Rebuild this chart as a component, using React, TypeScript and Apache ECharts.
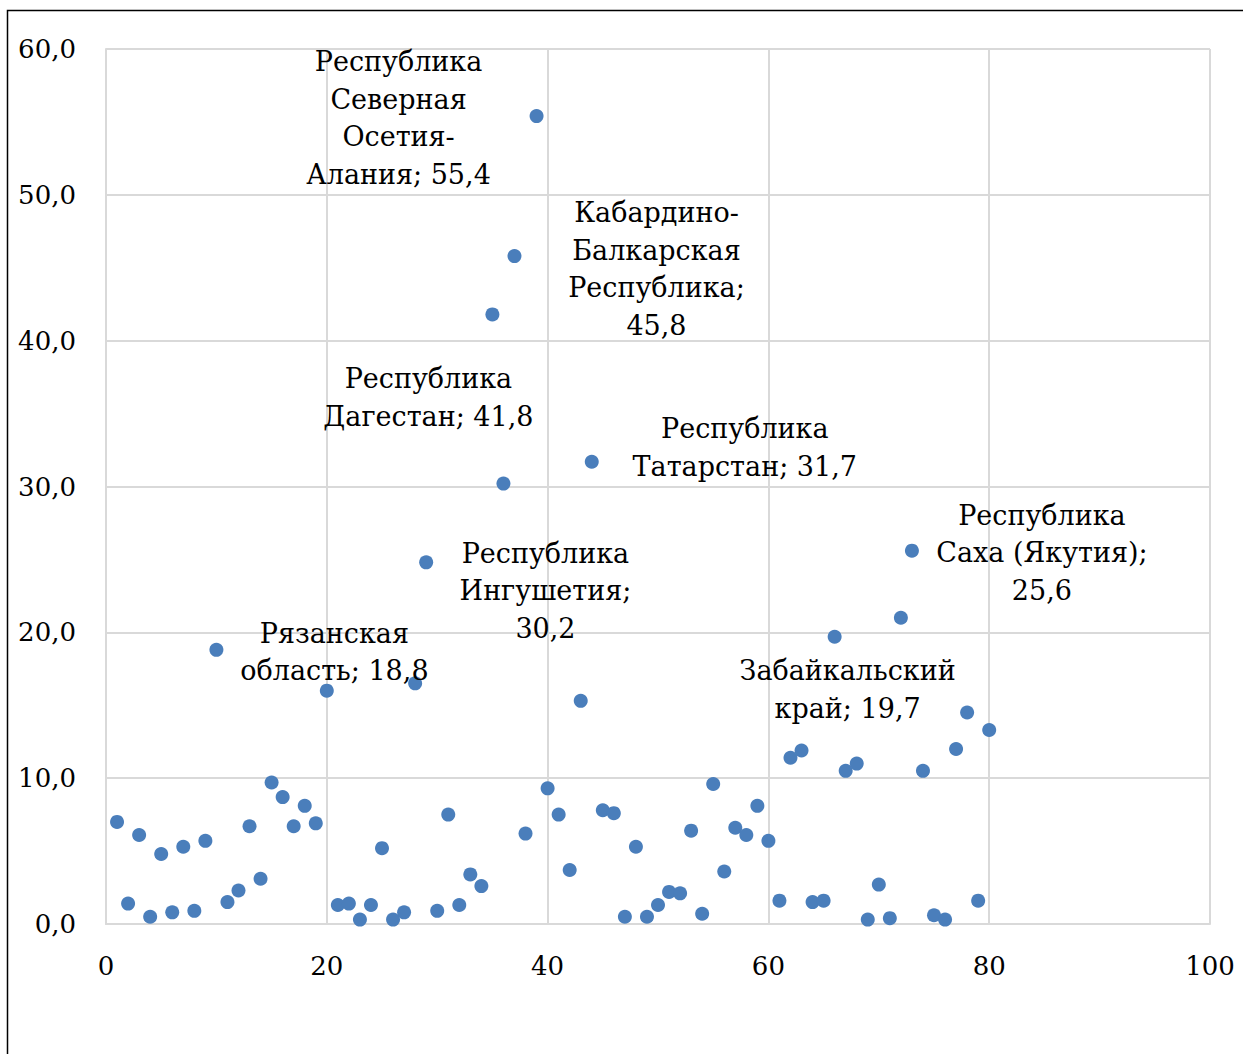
import React, { useEffect, useRef } from "react";
import * as echarts from "echarts";

const xValues: number[] = Array.from({ length: 80 }, (_, i) => i + 1);
const yValues: number[] = [
  7.0, 1.4, 6.1, 0.5, 4.8, 0.8, 5.3, 0.9, 5.7, 18.8,
  1.5, 2.3, 6.7, 3.1, 9.7, 8.7, 6.7, 8.1, 6.9, 16.0,
  1.3, 1.4, 0.3, 1.3, 5.2, 0.3, 0.8, 16.5, 24.8, 0.9,
  7.5, 1.3, 3.4, 2.6, 41.8, 30.2, 45.8, 6.2, 55.4, 9.3,
  7.5, 3.7, 15.3, 31.7, 7.8, 7.6, 0.5, 5.3, 0.5, 1.3,
  2.2, 2.1, 6.4, 0.7, 9.6, 3.6, 6.6, 6.1, 8.1, 5.7,
  1.6, 11.4, 11.9, 1.5, 1.6, 19.7, 10.5, 11.0, 0.3, 2.7,
  0.4, 21.0, 25.6, 10.5, 0.6, 0.3, 12.0, 14.5, 1.6, 13.3,
];

// labelled regions: x index -> label text (value appended from data)
const labelNames: { x: number; name: string }[] = [
  { x: 39, name: "Республика\nСеверная\nОсетия-\nАлания" },
  { x: 37, name: "Кабардино-\nБалкарская\nРеспублика;" },
  { x: 35, name: "Республика\nДагестан" },
  { x: 44, name: "Республика\nТатарстан" },
  { x: 36, name: "Республика\nИнгушетия;" },
  { x: 10, name: "Рязанская\nобласть" },
  { x: 66, name: "Забайкальский\nкрай" },
  { x: 73, name: "Республика\nСаха (Якутия);" },
];

// label placement offsets (px)
const labelOffsets: Record<number, [number, number]> = {
  39: [-138, 2],
  37: [142, 13],
  35: [-64, 83],
  44: [153, -14],
  36: [42, 107],
  10: [118, 2],
  66: [13, 53],
  73: [130, 2],
};

const fmt = (v: number) => v.toFixed(1).replace(".", ",");

export default function App() {
  const ref = useRef<HTMLDivElement>(null);
  useEffect(() => {
    document.body.style.margin = "0";
    const chart = echarts.init(ref.current!, undefined, { renderer: "svg" });
    const font = "'DejaVu Serif', serif";
    const data = xValues.map((x, i) => {
      const lab = labelNames.find((l) => l.x === x);
      const item: any = { value: [x, yValues[i]] };
      if (lab) {
        const sep = lab.name.endsWith(";") ? "\n" : "; ";
        item.label = {
          show: true,
          position: "inside",
          offset: labelOffsets[x],
          align: "center",
          verticalAlign: "middle",
          formatter: lab.name + sep + fmt(yValues[i]),
          fontFamily: font,
          fontSize: 27,
          lineHeight: 37.5,
          color: "#000",
          opacity: 1,
        };
      }
      return item;
    });
    chart.setOption({
      animation: false,
      backgroundColor: "#fff",
      grid: { left: 106, right: 33, top: 49, bottom: 130, containLabel: false },
      xAxis: {
        type: "value",
        min: 0,
        max: 100,
        interval: 20,
        axisLine: { show: true, lineStyle: { color: "#d9d9d9", width: 2 } },
        axisTick: { show: false },
        splitLine: { show: true, lineStyle: { color: "#d9d9d9", width: 2 } },
        axisLabel: { fontFamily: font, fontSize: 26, color: "#000", margin: 29 },
      },
      yAxis: {
        type: "value",
        min: 0,
        max: 60,
        interval: 10,
        axisLine: { show: true, lineStyle: { color: "#d9d9d9", width: 2 } },
        axisTick: { show: false },
        splitLine: { show: true, lineStyle: { color: "#d9d9d9", width: 2 } },
        axisLabel: {
          fontFamily: font,
          fontSize: 26,
          color: "#000",
          margin: 30,
          formatter: (v: number) => fmt(v),
        },
      },
      graphic: [
        {
          type: "polyline",
          shape: { points: [[7.5, 1054], [7.5, 10.5], [1243, 10.5]] },
          style: { stroke: "#000", lineWidth: 1.5, fill: null },
          silent: true,
        },
      ],
      series: [
        {
          type: "scatter",
          symbol: "circle",
          symbolSize: 14,
          itemStyle: { color: "#4a7ebb", opacity: 1 },
          label: { show: false },
          data,
        },
      ],
    });
    return () => chart.dispose();
  }, []);
  return <div ref={ref} style={{ width: 1243, height: 1054 }} />;
}
